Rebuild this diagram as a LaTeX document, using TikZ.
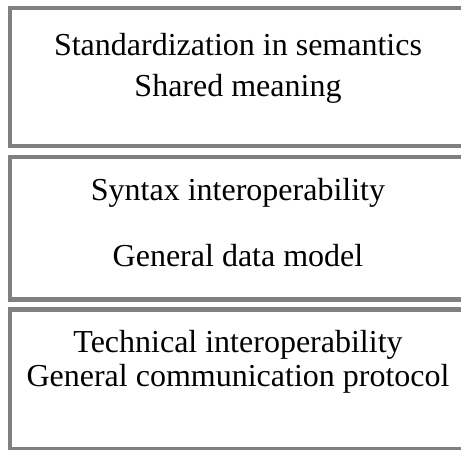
\documentclass[tikz,border=0pt]{standalone}
\usepackage{fontspec}
\setmainfont{Liberation Serif}

\begin{document}
\begin{tikzpicture}[
        x=1pt, y=1pt,
        every node/.style={font=\fontsize{16}{19}\selectfont, align=center},
        layer/.style={draw=gray, line width=2.25pt, minimum width=228pt, inner sep=0pt},
        label/.style={anchor=base}
    ]
        \useasboundingbox (0,0) rectangle (230.5,225);
        \clip (0,0) rectangle (230.5,225);
        \node[layer, minimum height=69pt]   (sem)  at (119, 186.4) {};
        \node[layer, minimum height=71.25pt] (syn)  at (119, 110.75) {};
        \node[layer, minimum height=70.1pt] (tech) at (119, 35.3) {};
        \node[label] (semTitle)  at (119, 197.2) {Standardization in semantics};
        \node[label] (semSub)    at (119, 176.7) {Shared meaning};
        \node[label] (synTitle)  at (119, 124.5) {Syntax interoperability};
        \node[label] (synSub)    at (119, 91.7)  {General data model};
        \node[label] (techTitle) at (119, 48.7)  {Technical interoperability};
        \node[label] (techSub)   at (119, 31.7)  {General communication protocol};
    \end{tikzpicture}
\end{document}
